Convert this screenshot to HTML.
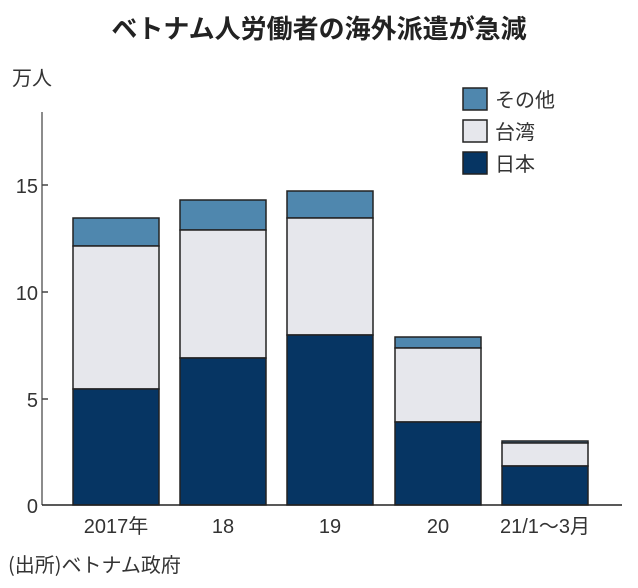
<!DOCTYPE html>
<html><head><meta charset="utf-8"><style>
body{margin:0;background:#fff;}
svg{display:block;font-family:"Liberation Sans","Noto Sans CJK JP",sans-serif;}
</style></head><body>
<svg width="638" height="588" viewBox="0 0 638 588">
<text x="319" y="38" text-anchor="middle" font-size="26" font-weight="bold" fill="#222" font-family="'Noto Sans CJK JP',sans-serif">ベトナム人労働者の海外派遣が急減</text>
<text x="12" y="85" font-size="20" fill="#333" font-family="'Noto Sans CJK JP',sans-serif">万人</text>
<line x1="42" y1="112" x2="42" y2="505" stroke="#666" stroke-width="1.5"/>
<g stroke="#444" stroke-width="1.5">
<line x1="42" y1="185" x2="48" y2="185"/><line x1="42" y1="292" x2="48" y2="292"/><line x1="42" y1="399" x2="48" y2="399"/>
</g>
<g font-size="20" fill="#333" text-anchor="end">
<text x="38" y="193">15</text><text x="38" y="300">10</text><text x="38" y="407">5</text><text x="38" y="513">0</text>
</g>
<g stroke="#222" stroke-width="1.5">
<rect x="73" y="218" width="86" height="28" fill="#4f87ae"/>
<rect x="73" y="246" width="86" height="143" fill="#e6e7ec"/>
<rect x="73" y="389" width="86" height="116" fill="#063563"/>
<rect x="180" y="200" width="86" height="30" fill="#4f87ae"/>
<rect x="180" y="230" width="86" height="128" fill="#e6e7ec"/>
<rect x="180" y="358" width="86" height="147" fill="#063563"/>
<rect x="287" y="191" width="86" height="27" fill="#4f87ae"/>
<rect x="287" y="218" width="86" height="117" fill="#e6e7ec"/>
<rect x="287" y="335" width="86" height="170" fill="#063563"/>
<rect x="395" y="337" width="86" height="11" fill="#4f87ae"/>
<rect x="395" y="348" width="86" height="74" fill="#e6e7ec"/>
<rect x="395" y="422" width="86" height="83" fill="#063563"/>
<rect x="502" y="441" width="86" height="2" fill="#4f87ae"/>
<rect x="502" y="443" width="86" height="23" fill="#e6e7ec"/>
<rect x="502" y="466" width="86" height="39" fill="#063563"/>
</g>
<line x1="42" y1="505" x2="622" y2="505" stroke="#222" stroke-width="1.5"/>
<g font-size="20" fill="#333" text-anchor="middle">
<text x="116" y="533">2017年</text><text x="223" y="533">18</text><text x="330" y="533">19</text><text x="438" y="533">20</text><text x="545" y="533">21/1～3月</text>
</g>
<g stroke="#222" stroke-width="1.5">
<rect x="463" y="88" width="24" height="22" fill="#4f87ae"/>
<rect x="463" y="120" width="24" height="22" fill="#e6e7ec"/>
<rect x="463" y="152" width="24" height="22" fill="#063563"/>
</g>
<g font-size="20" fill="#333" font-family="'Noto Sans CJK JP',sans-serif">
<text x="495" y="107">その他</text><text x="495" y="139">台湾</text><text x="495" y="171">日本</text>
</g>
<text x="8" y="572" font-size="20" fill="#333" font-family="'Noto Sans CJK JP',sans-serif">(出所)ベトナム政府</text>
</svg>
</body></html>
